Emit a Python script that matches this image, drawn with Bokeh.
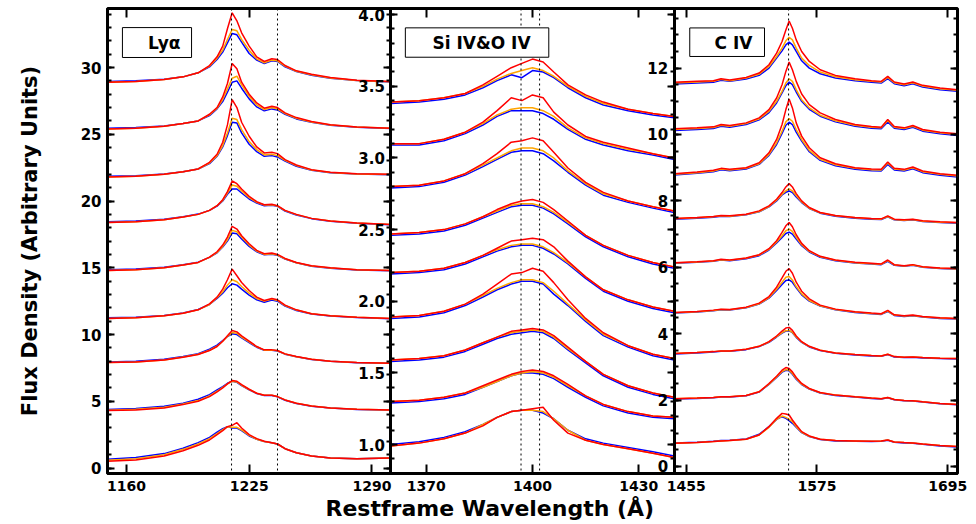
from bokeh.plotting import figure
from bokeh.models import (Range1d, LinearAxis, SingleIntervalTicker, FixedTicker,
                          PrintfTickFormatter, Span, BoxAnnotation, Label, Title)
from bokeh.embed import file_html
from bokeh.resources import INLINE

# ---------------- data ----------------
LYA_WAVE = [1150, 1165, 1180, 1190, 1198, 1204, 1208, 1211, 1213.5, 1216, 1218.5, 1221, 1225,
            1229, 1233, 1237, 1240, 1244, 1250, 1258, 1268, 1282, 1300]
LYA_RED = [
    [28.9, 28.95, 29.1, 29.3, 29.6, 30.15, 30.8, 31.6, 32.9, 34.1, 33.5, 32.6, 31.6, 30.8, 30.45, 30.65, 30.6, 30.15, 29.75, 29.5, 29.25, 29.05, 28.95],
    [25.4, 25.45, 25.6, 25.8, 26.0, 26.5, 27.0, 27.8, 28.8, 30.3, 29.9, 28.9, 28.0, 27.35, 26.95, 27.1, 27.0, 26.6, 26.25, 25.95, 25.72, 25.55, 25.45],
    [21.8, 21.85, 22.0, 22.2, 22.4, 22.9, 23.5, 24.4, 25.7, 27.6, 27.0, 25.9, 24.85, 24.05, 23.6, 23.65, 23.55, 23.1, 22.7, 22.35, 22.15, 22.05, 22.0],
    [18.4, 18.45, 18.6, 18.8, 19.0, 19.3, 19.65, 20.1, 20.7, 21.5, 21.3, 20.9, 20.35, 19.95, 19.72, 19.75, 19.65, 19.3, 19.0, 18.7, 18.5, 18.35, 18.25],
    [14.8, 14.85, 15.0, 15.2, 15.4, 15.8, 16.2, 16.7, 17.3, 18.1, 17.9, 17.4, 16.8, 16.3, 16.05, 16.1, 16.0, 15.7, 15.4, 15.15, 15.0, 14.85, 14.8],
    [11.2, 11.25, 11.4, 11.6, 11.85, 12.3, 12.8, 13.4, 14.1, 14.9, 14.4, 13.9, 13.3, 12.8, 12.55, 12.7, 12.6, 12.2, 11.85, 11.55, 11.4, 11.3, 11.2],
    [7.9, 7.95, 8.1, 8.3, 8.5, 8.8, 9.1, 9.5, 9.9, 10.3, 10.2, 9.9, 9.5, 9.1, 8.85, 8.85, 8.8, 8.55, 8.35, 8.15, 8.0, 7.9, 7.85],
    [4.3, 4.35, 4.5, 4.75, 5.0, 5.35, 5.7, 6.0, 6.3, 6.55, 6.5, 6.25, 5.9, 5.6, 5.45, 5.45, 5.35, 5.1, 4.85, 4.65, 4.5, 4.4, 4.35],
    [0.5, 0.6, 0.9, 1.3, 1.7, 2.1, 2.5, 2.8, 3.1, 3.2, 3.4, 3.0, 2.5, 2.2, 2.0, 1.9, 1.8, 1.45, 1.15, 0.9, 0.75, 0.7, 0.75],
]
LYA_ORANGE = [
    [28.9, 28.95, 29.1, 29.3, 29.6, 30.1, 30.7, 31.3, 32.1, 32.85, 32.75, 32.1, 31.3, 30.65, 30.35, 30.55, 30.5, 30.1, 29.72, 29.45, 29.22, 29.03, 28.93],
    [25.4, 25.45, 25.6, 25.8, 26.0, 26.45, 26.95, 27.6, 28.4, 29.2, 29.35, 28.7, 27.85, 27.2, 26.85, 27.0, 26.9, 26.55, 26.2, 25.92, 25.7, 25.55, 25.45],
    [21.8, 21.85, 22.0, 22.2, 22.4, 22.85, 23.4, 24.15, 25.1, 26.2, 26.1, 25.35, 24.45, 23.85, 23.45, 23.5, 23.4, 23.05, 22.65, 22.32, 22.13, 22.03, 21.98],
    [18.4, 18.45, 18.6, 18.8, 19.0, 19.3, 19.65, 20.05, 20.6, 21.2, 21.1, 20.75, 20.25, 19.9, 19.7, 19.72, 19.62, 19.28, 18.98, 18.7, 18.5, 18.35, 18.25],
    [14.8, 14.85, 15.0, 15.2, 15.4, 15.78, 16.15, 16.6, 17.1, 17.8, 17.7, 17.3, 16.7, 16.25, 16.0, 16.05, 15.95, 15.67, 15.38, 15.13, 14.98, 14.85, 14.8],
    [11.2, 11.25, 11.4, 11.6, 11.85, 12.25, 12.75, 13.2, 13.7, 14.1, 13.95, 13.6, 13.1, 12.7, 12.5, 12.65, 12.55, 12.17, 11.83, 11.55, 11.4, 11.3, 11.2],
    [7.9, 7.95, 8.1, 8.32, 8.52, 8.82, 9.12, 9.5, 9.85, 10.15, 10.1, 9.8, 9.45, 9.08, 8.83, 8.84, 8.78, 8.54, 8.34, 8.14, 8.0, 7.9, 7.85],
    [4.33, 4.4, 4.56, 4.8, 5.05, 5.4, 5.75, 6.05, 6.3, 6.5, 6.45, 6.2, 5.88, 5.6, 5.45, 5.45, 5.35, 5.1, 4.85, 4.65, 4.5, 4.4, 4.35],
    [0.58, 0.7, 1.0, 1.4, 1.8, 2.2, 2.58, 2.88, 3.1, 3.05, 3.05, 2.85, 2.45, 2.15, 1.98, 1.9, 1.8, 1.45, 1.15, 0.9, 0.75, 0.7, 0.75],
]
LYA_BLUE = [
    [28.95, 29.0, 29.12, 29.3, 29.6, 30.05, 30.6, 31.15, 31.85, 32.55, 32.45, 31.9, 31.05, 30.55, 30.3, 30.5, 30.45, 30.05, 29.7, 29.42, 29.2, 29.02, 28.92],
    [25.45, 25.5, 25.62, 25.8, 26.0, 26.4, 26.9, 27.45, 28.15, 28.9, 29.0, 28.45, 27.65, 27.05, 26.75, 26.9, 26.82, 26.5, 26.15, 25.9, 25.68, 25.53, 25.43],
    [21.85, 21.9, 22.02, 22.2, 22.4, 22.8, 23.35, 24.05, 24.9, 25.9, 25.85, 25.1, 24.25, 23.7, 23.35, 23.4, 23.3, 23.0, 22.6, 22.3, 22.12, 22.02, 21.97],
    [18.45, 18.5, 18.63, 18.82, 19.02, 19.3, 19.62, 20.0, 20.5, 20.9, 20.9, 20.6, 20.15, 19.85, 19.65, 19.68, 19.6, 19.25, 18.95, 18.68, 18.48, 18.33, 18.23],
    [14.85, 14.9, 15.03, 15.22, 15.42, 15.78, 16.12, 16.55, 17.0, 17.6, 17.55, 17.15, 16.6, 16.2, 15.97, 16.02, 15.93, 15.65, 15.37, 15.12, 14.97, 14.84, 14.78],
    [11.25, 11.3, 11.43, 11.62, 11.87, 12.25, 12.7, 13.1, 13.5, 13.8, 13.7, 13.4, 12.95, 12.6, 12.42, 12.58, 12.5, 12.13, 11.8, 11.53, 11.38, 11.28, 11.18],
    [7.95, 8.0, 8.15, 8.35, 8.56, 8.9, 9.2, 9.55, 9.85, 10.05, 10.0, 9.75, 9.4, 9.05, 8.82, 8.82, 8.77, 8.53, 8.33, 8.13, 7.99, 7.89, 7.84],
    [4.38, 4.45, 4.62, 4.85, 5.15, 5.5, 5.85, 6.1, 6.35, 6.5, 6.42, 6.18, 5.85, 5.58, 5.43, 5.43, 5.33, 5.08, 4.83, 4.63, 4.49, 4.39, 4.34],
    [0.65, 0.78, 1.08, 1.48, 1.9, 2.3, 2.68, 2.95, 3.1, 3.0, 3.0, 2.8, 2.4, 2.15, 1.98, 1.9, 1.8, 1.45, 1.15, 0.9, 0.75, 0.7, 0.75],
]

SIO_WAVE = [1360, 1368, 1375, 1381, 1386, 1390, 1394, 1397, 1400, 1403, 1406, 1410, 1415, 1420, 1427, 1434, 1440]
SIO_RED = [
    [3.39, 3.40, 3.42, 3.45, 3.51, 3.57, 3.63, 3.66, 3.69, 3.67, 3.60, 3.51, 3.44, 3.39, 3.34, 3.31, 3.29],
    [3.10, 3.10, 3.13, 3.18, 3.25, 3.33, 3.42, 3.40, 3.44, 3.42, 3.32, 3.23, 3.15, 3.11, 3.07, 3.03, 3.00],
    [2.80, 2.81, 2.84, 2.89, 2.96, 3.03, 3.11, 3.12, 3.14, 3.12, 3.04, 2.93, 2.83, 2.76, 2.70, 2.66, 2.63],
    [2.47, 2.48, 2.50, 2.54, 2.59, 2.64, 2.68, 2.70, 2.71, 2.69, 2.64, 2.56, 2.46, 2.39, 2.32, 2.27, 2.24],
    [2.20, 2.21, 2.23, 2.27, 2.32, 2.37, 2.42, 2.43, 2.44, 2.43, 2.38, 2.28, 2.17, 2.08, 2.01, 1.96, 1.93],
    [1.89, 1.90, 1.93, 1.98, 2.05, 2.12, 2.19, 2.20, 2.23, 2.21, 2.13, 2.01, 1.88, 1.78, 1.69, 1.63, 1.60],
    [1.59, 1.60, 1.62, 1.66, 1.71, 1.75, 1.79, 1.80, 1.81, 1.80, 1.76, 1.68, 1.58, 1.49, 1.41, 1.36, 1.33],
    [1.30, 1.31, 1.33, 1.36, 1.41, 1.45, 1.49, 1.51, 1.52, 1.51, 1.48, 1.42, 1.34, 1.28, 1.23, 1.20, 1.19],
    [0.99, 1.01, 1.04, 1.08, 1.13, 1.19, 1.23, 1.24, 1.25, 1.26, 1.17, 1.08, 1.03, 1.00, 0.97, 0.94, 0.91],
]
SIO_ORANGE = [
    [3.39, 3.40, 3.42, 3.45, 3.50, 3.55, 3.59, 3.61, 3.63, 3.61, 3.57, 3.50, 3.43, 3.38, 3.34, 3.31, 3.29],
    [3.10, 3.10, 3.13, 3.18, 3.24, 3.30, 3.34, 3.35, 3.35, 3.33, 3.29, 3.21, 3.14, 3.10, 3.06, 3.03, 3.00],
    [2.80, 2.81, 2.84, 2.89, 2.95, 3.00, 3.05, 3.07, 3.07, 3.05, 3.00, 2.91, 2.82, 2.75, 2.70, 2.66, 2.63],
    [2.47, 2.48, 2.50, 2.54, 2.59, 2.63, 2.67, 2.68, 2.68, 2.66, 2.62, 2.55, 2.46, 2.39, 2.32, 2.27, 2.24],
    [2.20, 2.21, 2.23, 2.27, 2.32, 2.36, 2.39, 2.40, 2.40, 2.38, 2.34, 2.27, 2.17, 2.08, 2.01, 1.96, 1.93],
    [1.89, 1.90, 1.93, 1.98, 2.04, 2.09, 2.13, 2.15, 2.15, 2.13, 2.07, 1.98, 1.87, 1.77, 1.69, 1.63, 1.60],
    [1.59, 1.60, 1.62, 1.66, 1.71, 1.75, 1.78, 1.79, 1.80, 1.79, 1.75, 1.67, 1.58, 1.49, 1.41, 1.36, 1.33],
    [1.30, 1.31, 1.33, 1.36, 1.40, 1.44, 1.48, 1.50, 1.51, 1.50, 1.47, 1.41, 1.34, 1.28, 1.23, 1.20, 1.19],
    [0.99, 1.01, 1.04, 1.08, 1.14, 1.19, 1.23, 1.24, 1.24, 1.23, 1.18, 1.10, 1.03, 1.00, 0.97, 0.94, 0.91],
]
SIO_BLUE = [
    [3.38, 3.39, 3.41, 3.44, 3.49, 3.54, 3.58, 3.56, 3.61, 3.60, 3.56, 3.49, 3.42, 3.37, 3.33, 3.30, 3.28],
    [3.09, 3.09, 3.12, 3.17, 3.23, 3.29, 3.33, 3.33, 3.33, 3.31, 3.27, 3.20, 3.13, 3.09, 3.05, 3.02, 2.99],
    [2.79, 2.80, 2.83, 2.88, 2.94, 2.99, 3.04, 3.05, 3.05, 3.03, 2.98, 2.90, 2.81, 2.74, 2.69, 2.65, 2.62],
    [2.46, 2.47, 2.49, 2.53, 2.58, 2.62, 2.66, 2.67, 2.67, 2.65, 2.61, 2.54, 2.45, 2.38, 2.31, 2.26, 2.23],
    [2.19, 2.20, 2.22, 2.26, 2.31, 2.35, 2.38, 2.39, 2.39, 2.37, 2.33, 2.26, 2.16, 2.07, 2.00, 1.95, 1.92],
    [1.88, 1.89, 1.92, 1.97, 2.03, 2.08, 2.12, 2.14, 2.14, 2.12, 2.05, 1.97, 1.86, 1.76, 1.68, 1.62, 1.59],
    [1.58, 1.59, 1.61, 1.65, 1.70, 1.74, 1.77, 1.78, 1.79, 1.78, 1.74, 1.66, 1.57, 1.48, 1.40, 1.35, 1.32],
    [1.29, 1.30, 1.32, 1.35, 1.40, 1.44, 1.48, 1.50, 1.50, 1.49, 1.46, 1.40, 1.33, 1.27, 1.22, 1.19, 1.18],
    [1.00, 1.02, 1.05, 1.09, 1.14, 1.19, 1.23, 1.24, 1.24, 1.22, 1.18, 1.10, 1.04, 1.01, 0.98, 0.95, 0.92],
]

CIV_WAVE = [1444, 1465, 1480, 1487, 1495, 1510, 1522, 1531, 1538, 1543, 1546.5, 1549.5, 1552.5, 1556,
            1561, 1568, 1578, 1592, 1610, 1625, 1634, 1640, 1646, 1655, 1663, 1672, 1688, 1704]
CIV_RED = [
    [11.57, 11.6, 11.62, 11.68, 11.64, 11.72, 11.85, 12.1, 12.45, 12.8, 13.15, 13.42, 13.2, 12.85, 12.5, 12.2, 11.95, 11.78, 11.68, 11.62, 11.6, 11.75, 11.58, 11.52, 11.58, 11.48, 11.4, 11.35],
    [10.17, 10.2, 10.23, 10.3, 10.27, 10.35, 10.5, 10.75, 11.1, 11.5, 11.9, 12.18, 11.95, 11.6, 11.22, 10.9, 10.65, 10.45, 10.3, 10.24, 10.22, 10.45, 10.24, 10.2, 10.27, 10.15, 10.07, 10.02],
    [8.82, 8.87, 8.92, 8.98, 8.95, 9.0, 9.15, 9.45, 9.85, 10.3, 10.75, 11.07, 10.8, 10.35, 9.95, 9.6, 9.3, 9.12, 9.0, 8.96, 8.95, 9.17, 8.98, 8.95, 9.02, 8.9, 8.82, 8.77],
    [7.47, 7.5, 7.53, 7.56, 7.55, 7.6, 7.7, 7.85, 8.05, 8.25, 8.42, 8.52, 8.42, 8.22, 8.0, 7.8, 7.65, 7.56, 7.5, 7.47, 7.46, 7.55, 7.45, 7.43, 7.45, 7.4, 7.37, 7.35],
    [6.14, 6.17, 6.2, 6.24, 6.22, 6.28, 6.38, 6.56, 6.8, 7.05, 7.25, 7.35, 7.22, 6.98, 6.72, 6.5, 6.33, 6.22, 6.15, 6.12, 6.1, 6.22, 6.08, 6.05, 6.08, 6.02, 5.98, 5.96],
    [4.64, 4.67, 4.71, 4.74, 4.73, 4.8, 4.92, 5.12, 5.4, 5.68, 5.88, 5.96, 5.82, 5.55, 5.28, 5.05, 4.86, 4.74, 4.66, 4.62, 4.6, 4.7, 4.57, 4.54, 4.56, 4.52, 4.48, 4.46],
    [3.40, 3.43, 3.46, 3.48, 3.48, 3.53, 3.62, 3.76, 3.93, 4.08, 4.17, 4.19, 4.1, 3.93, 3.76, 3.62, 3.5, 3.42, 3.37, 3.34, 3.33, 3.38, 3.31, 3.29, 3.3, 3.28, 3.26, 3.25],
    [2.04, 2.06, 2.08, 2.1, 2.1, 2.14, 2.25, 2.5, 2.72, 2.9, 2.98, 2.95, 2.85, 2.68, 2.5, 2.35, 2.23, 2.15, 2.1, 2.06, 2.04, 2.08, 2.02, 1.99, 1.98, 1.95, 1.9, 1.87],
    [0.70, 0.72, 0.75, 0.77, 0.78, 0.82, 0.95, 1.2, 1.45, 1.6, 1.58, 1.55, 1.4, 1.25, 1.05, 0.92, 0.82, 0.78, 0.77, 0.76, 0.77, 0.80, 0.74, 0.72, 0.71, 0.68, 0.63, 0.60],
]
CIV_ORANGE = [
    [11.55, 11.58, 11.6, 11.66, 11.62, 11.7, 11.82, 12.05, 12.35, 12.6, 12.82, 12.93, 12.85, 12.6, 12.3, 12.08, 11.88, 11.74, 11.65, 11.6, 11.58, 11.72, 11.56, 11.5, 11.56, 11.46, 11.38, 11.33],
    [10.15, 10.18, 10.21, 10.28, 10.25, 10.33, 10.47, 10.7, 11.0, 11.3, 11.55, 11.68, 11.6, 11.35, 11.05, 10.8, 10.58, 10.41, 10.28, 10.22, 10.2, 10.42, 10.22, 10.18, 10.25, 10.13, 10.05, 10.0],
    [8.8, 8.85, 8.9, 8.96, 8.93, 8.98, 9.12, 9.4, 9.75, 10.1, 10.38, 10.48, 10.4, 10.15, 9.85, 9.52, 9.25, 9.09, 8.98, 8.94, 8.93, 9.14, 8.96, 8.93, 9.0, 8.88, 8.8, 8.75],
    [7.46, 7.49, 7.52, 7.55, 7.54, 7.59, 7.68, 7.83, 8.02, 8.2, 8.3, 8.36, 8.3, 8.16, 7.97, 7.78, 7.64, 7.55, 7.49, 7.46, 7.45, 7.53, 7.44, 7.42, 7.44, 7.39, 7.36, 7.34],
    [6.13, 6.16, 6.19, 6.23, 6.21, 6.27, 6.37, 6.54, 6.76, 6.95, 7.1, 7.15, 7.08, 6.9, 6.68, 6.48, 6.32, 6.21, 6.14, 6.11, 6.09, 6.2, 6.07, 6.04, 6.07, 6.01, 5.97, 5.95],
    [4.63, 4.66, 4.7, 4.73, 4.72, 4.79, 4.9, 5.09, 5.34, 5.55, 5.7, 5.72, 5.62, 5.42, 5.2, 5.0, 4.84, 4.73, 4.65, 4.61, 4.59, 4.68, 4.56, 4.53, 4.55, 4.51, 4.47, 4.45],
    [3.40, 3.43, 3.46, 3.48, 3.48, 3.53, 3.62, 3.75, 3.91, 4.03, 4.09, 4.1, 4.04, 3.9, 3.75, 3.61, 3.5, 3.42, 3.37, 3.34, 3.33, 3.38, 3.31, 3.29, 3.3, 3.28, 3.26, 3.25],
    [2.04, 2.06, 2.08, 2.1, 2.1, 2.14, 2.25, 2.48, 2.7, 2.86, 2.92, 2.9, 2.8, 2.65, 2.48, 2.34, 2.22, 2.15, 2.1, 2.06, 2.04, 2.08, 2.02, 1.99, 1.98, 1.95, 1.9, 1.87],
    [0.70, 0.72, 0.75, 0.77, 0.78, 0.82, 0.95, 1.18, 1.42, 1.52, 1.48, 1.42, 1.35, 1.2, 1.03, 0.91, 0.82, 0.78, 0.77, 0.76, 0.77, 0.80, 0.74, 0.72, 0.71, 0.68, 0.63, 0.60],
]
CIV_BLUE = [
    [11.52, 11.55, 11.57, 11.63, 11.6, 11.67, 11.78, 12.0, 12.3, 12.52, 12.7, 12.78, 12.7, 12.5, 12.22, 12.0, 11.83, 11.7, 11.62, 11.57, 11.55, 11.68, 11.53, 11.47, 11.53, 11.43, 11.35, 11.3],
    [10.12, 10.15, 10.18, 10.25, 10.22, 10.3, 10.44, 10.66, 10.95, 11.25, 11.47, 11.58, 11.5, 11.28, 11.0, 10.76, 10.55, 10.38, 10.25, 10.19, 10.17, 10.38, 10.19, 10.15, 10.22, 10.1, 10.02, 9.97],
    [8.78, 8.83, 8.88, 8.94, 8.91, 8.96, 9.1, 9.37, 9.7, 10.03, 10.28, 10.37, 10.3, 10.07, 9.8, 9.48, 9.22, 9.06, 8.95, 8.91, 8.9, 9.1, 8.93, 8.9, 8.97, 8.85, 8.77, 8.72],
    [7.45, 7.48, 7.51, 7.54, 7.53, 7.58, 7.67, 7.82, 8.0, 8.18, 8.26, 8.3, 8.25, 8.12, 7.95, 7.77, 7.63, 7.54, 7.48, 7.45, 7.44, 7.52, 7.43, 7.41, 7.43, 7.38, 7.35, 7.33],
    [6.12, 6.15, 6.18, 6.22, 6.2, 6.26, 6.35, 6.52, 6.73, 6.9, 7.02, 7.06, 7.0, 6.85, 6.65, 6.46, 6.3, 6.2, 6.13, 6.1, 6.08, 6.18, 6.06, 6.03, 6.06, 6.0, 5.96, 5.94],
    [4.62, 4.65, 4.69, 4.72, 4.71, 4.78, 4.89, 5.07, 5.3, 5.48, 5.6, 5.62, 5.55, 5.38, 5.17, 4.98, 4.83, 4.72, 4.64, 4.6, 4.58, 4.67, 4.55, 4.52, 4.54, 4.5, 4.46, 4.44],
    [3.39, 3.42, 3.45, 3.47, 3.47, 3.52, 3.61, 3.74, 3.9, 4.02, 4.08, 4.09, 4.03, 3.89, 3.74, 3.6, 3.49, 3.41, 3.36, 3.33, 3.32, 3.37, 3.3, 3.28, 3.29, 3.27, 3.25, 3.24],
    [2.03, 2.05, 2.07, 2.09, 2.09, 2.13, 2.24, 2.47, 2.68, 2.84, 2.9, 2.88, 2.78, 2.63, 2.47, 2.33, 2.21, 2.14, 2.09, 2.05, 2.03, 2.07, 2.01, 1.98, 1.97, 1.94, 1.89, 1.86],
    [0.71, 0.73, 0.76, 0.78, 0.79, 0.83, 0.97, 1.2, 1.42, 1.5, 1.45, 1.38, 1.3, 1.18, 1.02, 0.9, 0.81, 0.77, 0.76, 0.75, 0.76, 0.79, 0.73, 0.71, 0.7, 0.67, 0.62, 0.59],
]

LYA_TICKS = [1160, 1225, 1290]
SIO_TICKS = [1370, 1400, 1430]
CIV_TICKS = [1455, 1575, 1695]
LYA_TOP_TICKS = [1160, 1225]          # the 1290 top tick is hidden under the "4.0" label
LYA_LINES = [1215.67, 1240.0]
SIO_LINES = [1396.76, 1402.0]
CIV_LINES = [1549.0]
PANEL_NAMES = ["Ly\u03b1", "Si IV&O IV", "C IV"]

# ---------------- ranges (three equal-width panels on one frame) ----------------
P1_X, P2_X, P3_X = (1150, 1300), (1360, 1440), (1444, 1704)
P1_Y, P2_Y, P3_Y = (-0.41, 34.42), (0.798, 4.043), (-0.211, 13.795)


def spread(lo, hi, idx):
    w = hi - lo
    return Range1d(lo - idx * w, hi + (2 - idx) * w)


def on_main_axis(lam, lo, hi, idx):
    # position of wavelength `lam` of panel `idx` expressed in the shared (panel 1) x scale
    return P1_X[0] + (idx + (lam - lo) / (hi - lo)) * (P1_X[1] - P1_X[0])


p = figure(width=976, height=524, output_backend="svg", toolbar_location=None, title=None,
           x_range=spread(*P1_X, 0), y_range=Range1d(*P1_Y),
           min_border_left=107, min_border_right=19, min_border_top=8, min_border_bottom=51)
xa = p.xaxis[0]   # regular bottom axis
ya = p.yaxis[0]   # regular left axis
p.extra_x_ranges = {"p2": spread(*P2_X, 1), "p3": spread(*P3_X, 2)}
p.extra_y_ranges = {"p2": Range1d(*P2_Y), "p3": Range1d(*P3_Y)}
p.xgrid.visible = False
p.ygrid.visible = False
p.outline_line_color = "black"
p.outline_line_width = 3
p.background_fill_color = "white"
p.border_fill_color = "white"

FONT = "DejaVu Sans"


def style(ax, labels=True, size="15px", tick=7):
    ax.axis_line_width = 3
    ax.axis_line_color = "black"
    ax.major_tick_in = tick
    ax.major_tick_out = 0
    ax.minor_tick_in = 4
    ax.minor_tick_out = 0
    ax.major_tick_line_width = 2
    ax.minor_tick_line_width = 2
    ax.major_label_text_font = FONT
    ax.major_label_text_font_style = "bold"
    ax.major_label_text_font_size = size
    ax.major_label_text_color = "black"
    ax.major_label_standoff = 6
    ax.major_label_text_alpha = 1.0 if labels else 0.0


# top tick marks
for rn, ticks in (("default", LYA_TOP_TICKS), ("p2", SIO_TICKS), ("p3", CIV_TICKS)):
    ax = LinearAxis(x_range_name=rn, fixed_location=P1_Y[1],
                    ticker=FixedTicker(ticks=ticks, minor_ticks=[]))
    style(ax, labels=False, tick=9)
    p.add_layout(ax, "above")

# panel 1 regular y axis
ya.ticker = SingleIntervalTicker(interval=5, num_minor_ticks=5)
style(ya)
ya.axis_label = "Flux Density (Arbitrary Units)"
ya.axis_label_text_font = FONT
ya.axis_label_text_font_style = "bold"
ya.axis_label_text_font_size = "21px"
ya.axis_label_text_color = "black"
ya.axis_label_standoff = 36

# one bottom axis carrying the wavelength ticks of all three panels
tick_pos, tick_txt = [], {}
for idx, (rng, ticks) in enumerate(((P1_X, LYA_TICKS), (P2_X, SIO_TICKS), (P3_X, CIV_TICKS))):
    for t in ticks:
        pos = on_main_axis(t, rng[0], rng[1], idx)
        tick_pos.append(pos)
        tick_txt[pos] = str(t)
xa.ticker = FixedTicker(ticks=tick_pos, minor_ticks=[])
xa.major_label_overrides = tick_txt
style(xa, size="14px", tick=9)
xa.major_label_standoff = 7

# left axes of panels 2 and 3 (their labels sit inside the previous panel)
ax2 = LinearAxis(y_range_name="p2", fixed_location=1300,
                 ticker=SingleIntervalTicker(interval=0.5, num_minor_ticks=5),
                 formatter=PrintfTickFormatter(format="%.1f"))
style(ax2)
p.add_layout(ax2, "left")
ax3 = LinearAxis(y_range_name="p3", fixed_location=1450,
                 ticker=SingleIntervalTicker(interval=2, num_minor_ticks=4))
style(ax3)
p.add_layout(ax3, "left")

# right-side tick marks for each panel
for rn, loc, tk in (("default", 1300, SingleIntervalTicker(interval=5, num_minor_ticks=5)),
                    ("p2", 1450, SingleIntervalTicker(interval=0.5, num_minor_ticks=5)),
                    ("p3", 1600, SingleIntervalTicker(interval=2, num_minor_ticks=4))):
    ax = LinearAxis(y_range_name=rn, fixed_location=loc, ticker=tk)
    style(ax, labels=False)
    p.add_layout(ax, "right")

# spectra
COLORS = [("blue", "#0000ff"), ("orange", "#ffa500"), ("red", "#ff0000")]
panels = [
    ("default", "default", LYA_WAVE, {"blue": LYA_BLUE, "orange": LYA_ORANGE, "red": LYA_RED}),
    ("p2", "p2", SIO_WAVE, {"blue": SIO_BLUE, "orange": SIO_ORANGE, "red": SIO_RED}),
    ("p3", "p3", CIV_WAVE, {"blue": CIV_BLUE, "orange": CIV_ORANGE, "red": CIV_RED}),
]
for xr, yr, wave, sets in panels:
    for k in range(len(sets["red"])):
        for name, col in COLORS:
            p.line(wave, sets[name][k], line_color=col, line_width=1.5,
                   x_range_name=xr, y_range_name=yr)

# dotted line markers
for rn, locs in (("default", LYA_LINES), ("p2", SIO_LINES), ("p3", CIV_LINES)):
    for loc in locs:
        p.add_layout(Span(location=loc, dimension="height", x_range_name=rn,
                          line_color="black", line_width=1, line_dash="2 3"))

# panel name boxes
boxes = [
    ("default", "default", 1157.9, 1194.5, 30.75, 32.99, 1180.0, 31.85),
    ("p2", "p2", 1364.1, 1404.6, 3.703, 3.908, 1385.6, 3.805),
    ("p3", "p3", 1458.3, 1526.9, 12.35, 13.21, 1498.4, 12.77),
]
for (xr, yr, l, r, b, t, tx, ty), name in zip(boxes, PANEL_NAMES):
    p.add_layout(BoxAnnotation(left=l, right=r, bottom=b, top=t, x_range_name=xr, y_range_name=yr,
                               fill_color="white", fill_alpha=1.0, line_color="black",
                               line_width=1, line_alpha=1.0))
    p.add_layout(Label(x=tx, y=ty, x_range_name=xr, y_range_name=yr, text=name,
                       text_align="center", text_baseline="middle", text_font=FONT,
                       text_font_style="bold", text_font_size="17px", text_color="black"))

# x-axis title
p.add_layout(Title(text="Restframe Wavelength (\u00c5)", align="left", offset=218,
                   text_font=FONT, text_font_style="bold", text_font_size="22px",
                   text_color="black", standoff=0), "below")

open("out.html", "w").write(file_html(p, INLINE))
